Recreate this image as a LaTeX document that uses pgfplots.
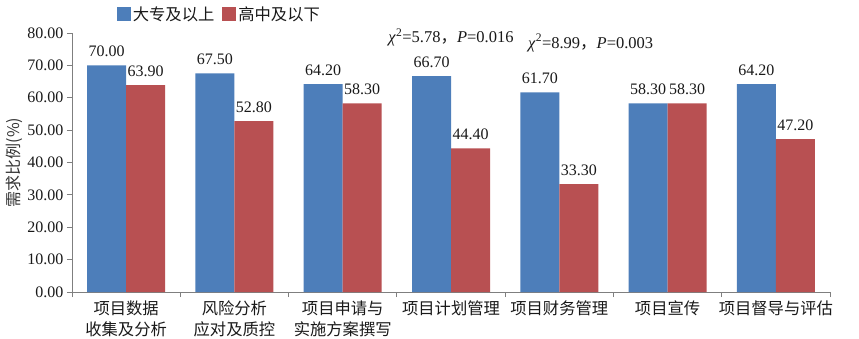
\documentclass[border=0pt]{standalone}
\usepackage{fontspec}
\setmainfont{Liberation Serif}
\newfontfamily\cjk{Noto Sans CJK SC}
\usepackage{pgfplots}
\pgfplotsset{compat=1.18}
\definecolor{eblue}{HTML}{4D7EBA}
\definecolor{ered}{HTML}{B85052}
\definecolor{axgray}{HTML}{7F7F7F}
\begin{document}
\begin{tikzpicture}
\useasboundingbox (-72pt,-46pt) rectangle (787pt,292pt);
\begin{axis}[
  at={(0pt,0pt)}, anchor=south west,
  scale only axis, width=758pt, height=259pt,
  ybar=0pt, bar width=39pt,
  xmin=-0.5, xmax=6.5, ymin=0, ymax=80,
  ytick={0,10,...,80},
  xtick={0,...,6},
  xticklabels={{项目数据\\收集及分析},{风险分析\\应对及质控},{项目申请与\\实施方案撰写},项目计划管理,项目财务管理,项目宣传,项目督导与评估},
  minor xtick={-0.5,0.5,...,6.5},
  major x tick style={draw=none},
  axis x line*=bottom, axis y line*=left,
  tick align=outside, major tick length=5pt, minor tick length=5pt,
  axis line style={axgray, line width=0.8pt},
  tick style={axgray, line width=0.8pt},
  /pgf/number format/fixed,
  /pgf/number format/fixed zerofill,
  /pgf/number format/precision=2,
  /pgf/number format/assume math mode=true,
  yticklabel style={font=\fontsize{16}{18}\selectfont, text=black!90},
  xticklabel style={font=\cjk\fontsize{16.3}{21}\selectfont, align=center, text=black!90},
  nodes near coords,
  every node near coord/.append style={font=\fontsize{16}{18}\selectfont, text=black!90, yshift=5pt},
  ylabel={\cjk 需求比例(\%)},
  ylabel style={at={(axis description cs:-0.0765,0.5)}, anchor=center, font=\fontsize{16}{18}\selectfont, text=black!80},
  legend style={at={(0.055,1.07)}, anchor=west, draw=none, fill=none, legend columns=2,
    text=black!90,
    /tikz/every even column/.append style={column sep=6pt}},
  legend image code/.code={\fill[#1] (0pt,-6pt) rectangle (14pt,8pt);},
  clip=false,
]
\addplot[fill=eblue, draw=none] coordinates {(0,70.00) (1,67.50) (2,64.20) (3,66.70) (4,61.70) (5,58.30) (6,64.20)};
\addplot[fill=ered, draw=none] coordinates {(0,63.90) (1,52.80) (2,58.30) (3,44.40) (4,33.30) (5,58.30) (6,47.20)};
\legend{{\cjk\fontsize{16.3}{18}\selectfont 大专及以上},{\cjk\fontsize{16.3}{18}\selectfont 高中及以下}}
\node[font=\fontsize{16.5}{18}\selectfont, text=black!90] at (axis cs:3,78.6) {\textit{χ}\textsuperscript{2}=5.78{\cjk ，}\textit{P}=0.016};
\node[font=\fontsize{16.5}{18}\selectfont, text=black!90] at (axis cs:4.29,76.9) {\textit{χ}\textsuperscript{2}=8.99{\cjk ，}\textit{P}=0.003};
\end{axis}
\end{tikzpicture}
\end{document}
